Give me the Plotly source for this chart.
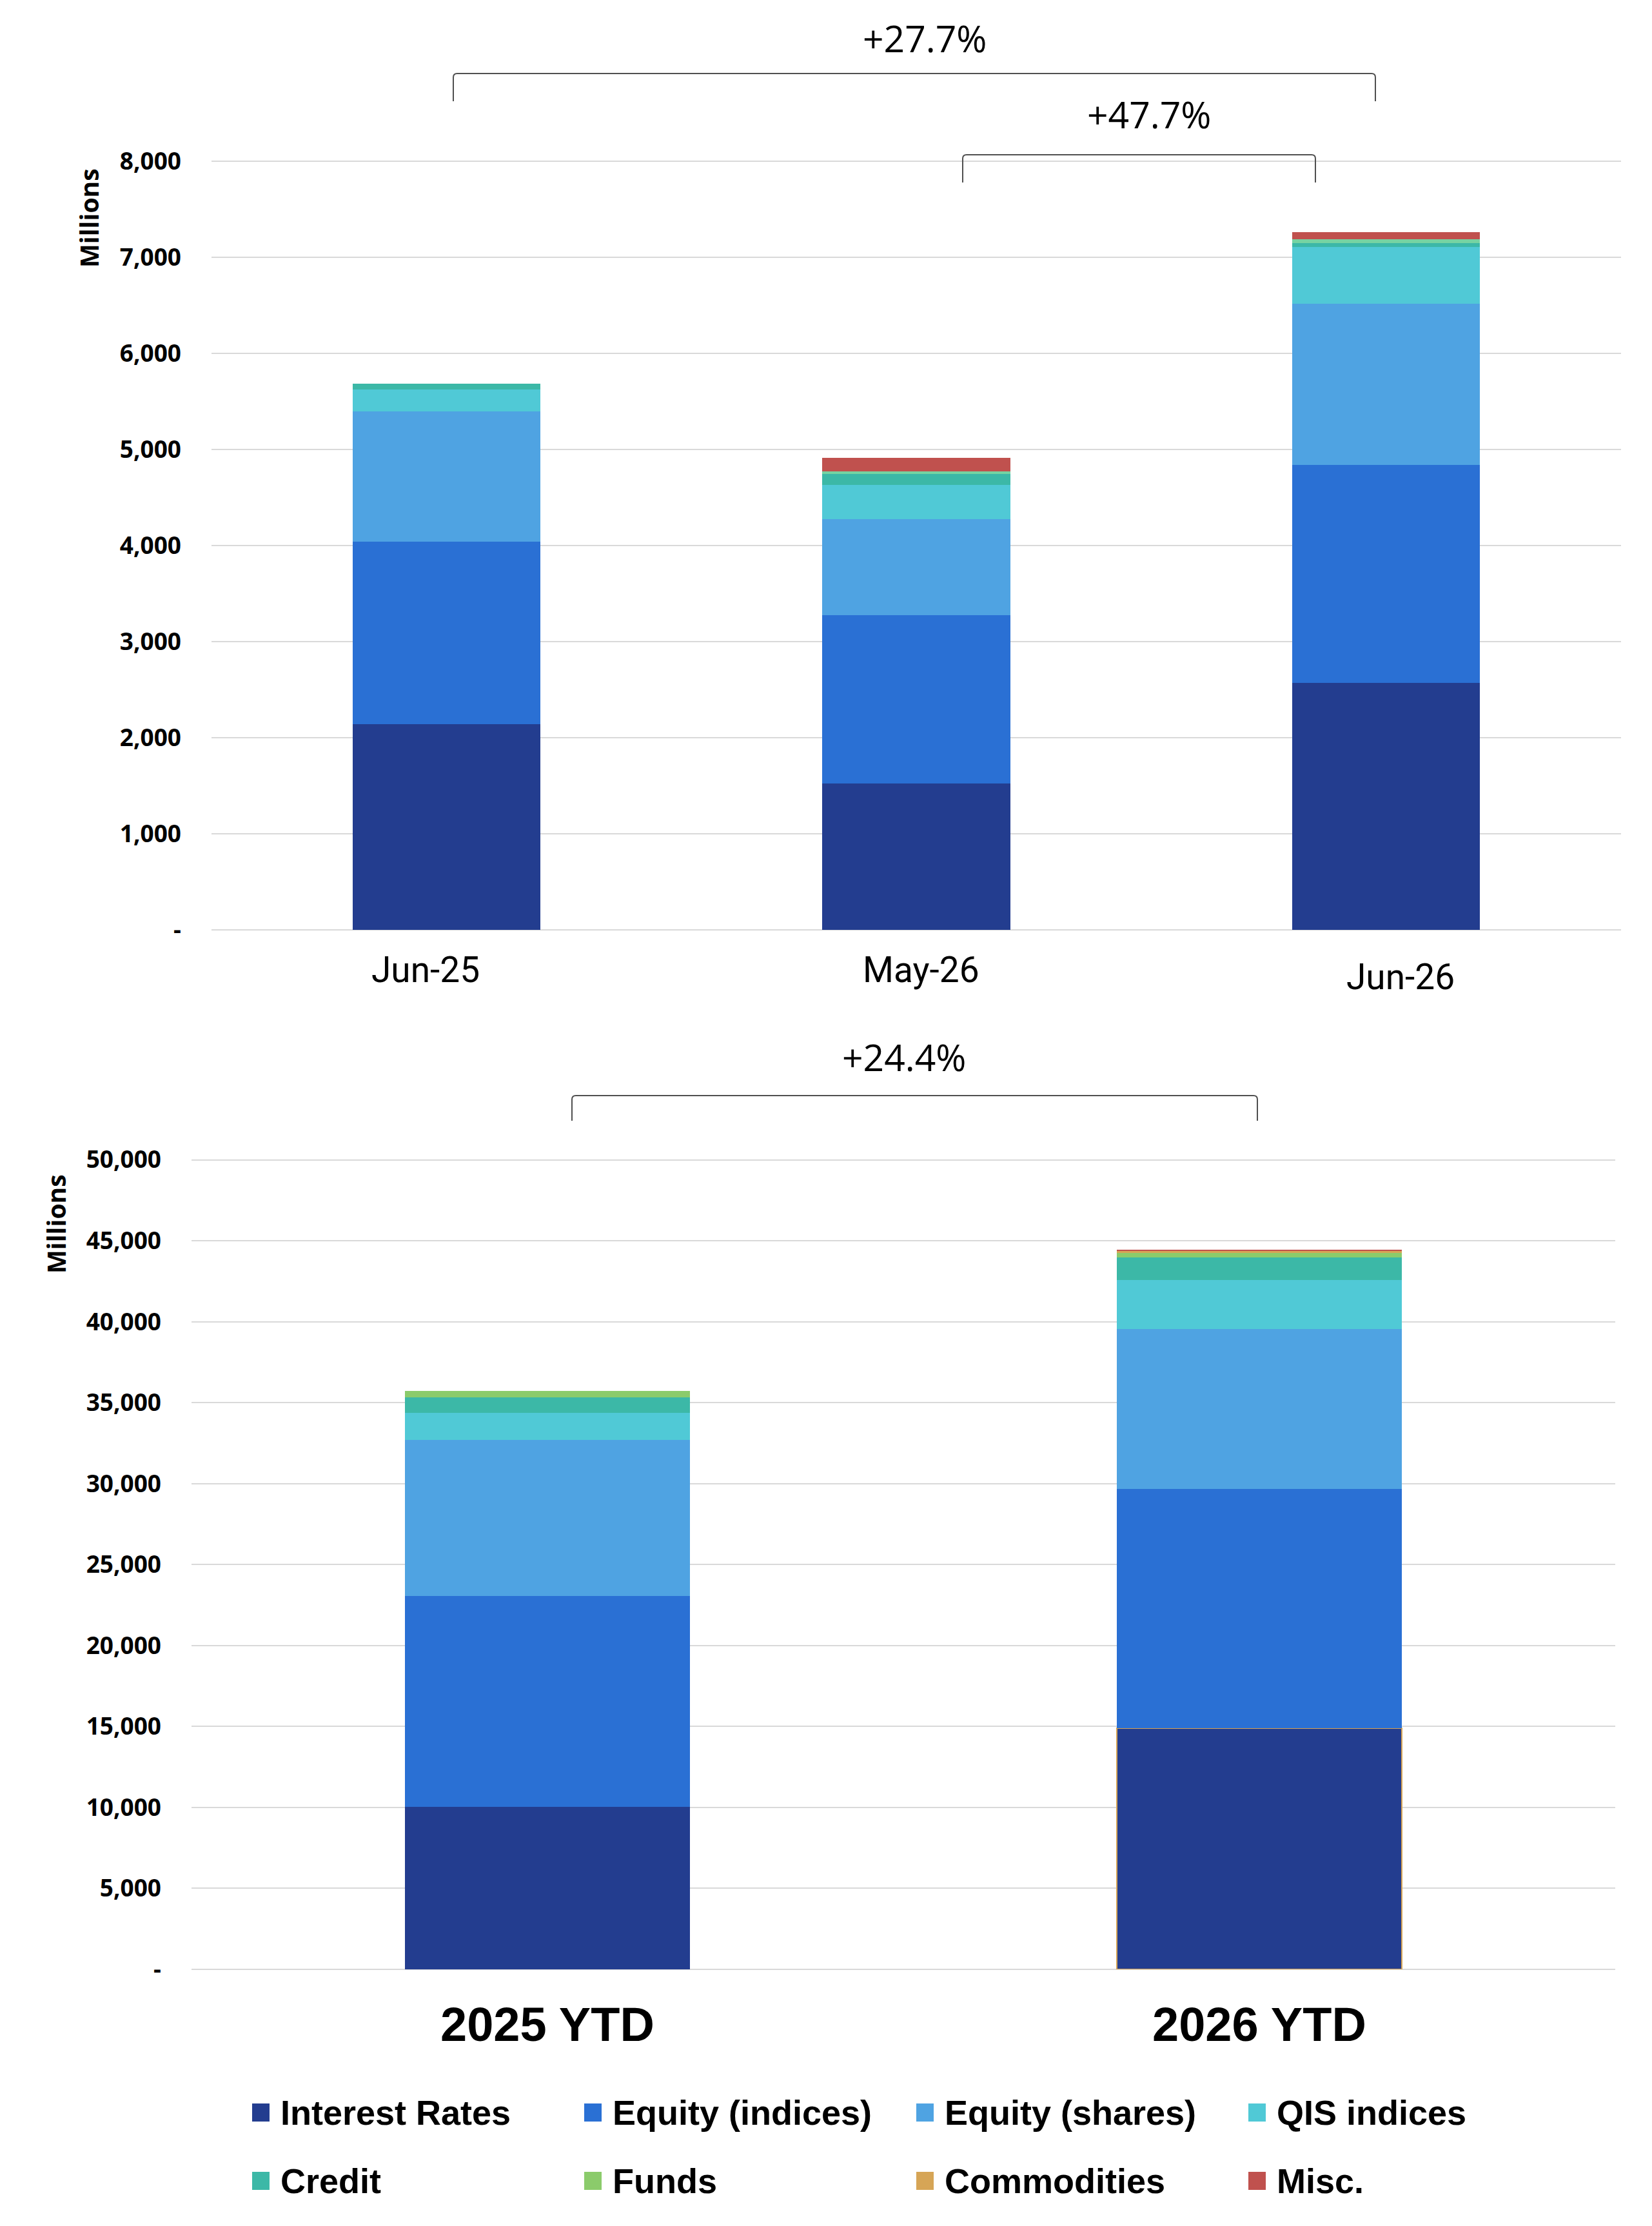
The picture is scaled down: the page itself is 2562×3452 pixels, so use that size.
import plotly.graph_objects as go

# ---- data (values in millions) ----
categories = ["Interest Rates", "Equity (indices)", "Equity (shares)", "QIS indices",
              "Credit", "Funds", "Commodities", "Misc."]
colors = ["#233D8F", "#2A70D4", "#4FA3E2", "#50C9D6",
          "#3CB8A7", "#8BCB6B", "#D6A556", "#C0514E"]
top_funds_color = "#76D3A2"

# monthly chart
months = ["Jun-25", "May-26", "Jun-26"]
m_interest_rates = [2144, 1521, 2568]
m_equity_indices = [1897, 1753, 2268]
m_equity_shares = [1356, 1000, 1681]
m_qis_indices = [226, 357, 590]
m_credit = [62, 114, 41]
m_funds = [0, 27, 40]
m_commodities = [0, 0, 0]
m_misc = [0, 144, 74]

# year-to-date chart
years = ["2025 YTD", "2026 YTD"]
y_interest_rates = [10050, 14880]
y_equity_indices = [13020, 14780]
y_equity_shares = [9610, 9887]
y_qis_indices = [1676, 3022]
y_credit = [957, 1390]
y_funds = [400, 280]
y_commodities = [0, 120]
y_misc = [0, 80]

top_ticks = [0, 1000, 2000, 3000, 4000, 5000, 6000, 7000, 8000]
bottom_ticks = [0, 5000, 10000, 15000, 20000, 25000, 30000, 35000, 40000, 45000, 50000]

W, H = 2562, 3452
PAGE_OFFSET = 8  # the page body margin shifts the figure by 8px


def px(x):
    return (x - PAGE_OFFSET) / W


def py(y):
    return 1 - (y - PAGE_OFFSET) / H


def tick_text(vals):
    return ["-" if v == 0 else f"{v:,}" for v in vals]


month_series = [m_interest_rates, m_equity_indices, m_equity_shares, m_qis_indices,
                m_credit, m_funds, m_commodities, m_misc]
year_series = [y_interest_rates, y_equity_indices, y_equity_shares, y_qis_indices,
               y_credit, y_funds, y_commodities, y_misc]

fig = go.Figure()

for i, (name, vals) in enumerate(zip(categories, month_series)):
    col = top_funds_color if name == "Funds" else colors[i]
    fig.add_trace(go.Bar(x=months, y=vals, name=name, marker_color=col,
                         marker_line_width=0, width=0.4, showlegend=False,
                         xaxis="x", yaxis="y"))

for i, (name, vals) in enumerate(zip(categories, year_series)):
    if name == "Interest Rates":
        line = dict(color=["rgba(0,0,0,0)", colors[6]], width=2)
    else:
        line = dict(width=0)
    fig.add_trace(go.Bar(x=years, y=vals, name=name, marker_color=colors[i],
                         marker_line=line, width=0.4, showlegend=False,
                         xaxis="x2", yaxis="y2"))

grid = "#D9D9D9"
tick_font = dict(family="Open Sans", size=37, color="black", weight="bold")

fig.update_layout(
    template="none",
    width=W, height=H,
    margin=dict(l=0, r=0, t=0, b=0, autoexpand=False),
    paper_bgcolor="white", plot_bgcolor="white",
    barmode="stack",
    xaxis=dict(domain=[px(328), px(2514)], anchor="y", type="category",
               range=[-0.5, 2.5], showgrid=False, zeroline=False, showline=False,
               ticks="", showticklabels=False),
    yaxis=dict(domain=[py(1442), py(247)], anchor="x", range=[0, 8020],
               tickvals=top_ticks, ticktext=tick_text(top_ticks),
               showgrid=True, gridcolor=grid, gridwidth=2,
               zeroline=True, zerolinecolor=grid, zerolinewidth=2,
               showline=False, ticks="", tickfont=tick_font, ticklabelstandoff=46,
               automargin=False),
    xaxis2=dict(domain=[px(297), px(2505)], anchor="y2", type="category",
                range=[-0.5, 1.5], showgrid=False, zeroline=False, showline=False,
                ticks="", showticklabels=False),
    yaxis2=dict(domain=[py(3054), py(1796)], anchor="x2", range=[0, 50100],
                tickvals=bottom_ticks, ticktext=tick_text(bottom_ticks),
                showgrid=True, gridcolor=grid, gridwidth=2,
                zeroline=True, zerolinecolor=grid, zerolinewidth=2,
                showline=False, ticks="", tickfont=tick_font, ticklabelstandoff=46,
                automargin=False),
)

# category labels (placed like the text boxes of the original)
month_label_dx = [-32, 7, 22]
month_label_y = [1504, 1504, 1515]
for m, dx, ly in zip(months, month_label_dx, month_label_y):
    fig.add_annotation(text=m, x=m, xref="x", y=py(ly), yref="paper", xshift=dx,
                       showarrow=False, xanchor="center", yanchor="middle",
                       font=dict(family="Roboto", size=55, color="black"))
for yr in years:
    fig.add_annotation(text=yr, x=yr, xref="x2", y=py(3139), yref="paper",
                       showarrow=False, xanchor="center", yanchor="middle",
                       font=dict(family="Liberation Sans", size=74, color="black",
                                 weight="bold"))

# axis titles
for x, y in [(137, 338), (86, 1898)]:
    fig.add_annotation(text="Millions", x=px(x), y=py(y), xref="paper", yref="paper",
                       textangle=-90, showarrow=False, xanchor="center", yanchor="middle",
                       font=dict(family="Open Sans", size=39, color="black", weight="bold"))


# growth brackets
def total(series, idx):
    return sum(s[idx] for s in series)


def bracket(x1, x2, ytop, ybot, label, lx, ly):
    r = 6
    path = (f"M {px(x1)},{py(ybot)} L {px(x1)},{py(ytop + r)} "
            f"Q {px(x1)},{py(ytop)} {px(x1 + r)},{py(ytop)} "
            f"L {px(x2 - r)},{py(ytop)} "
            f"Q {px(x2)},{py(ytop)} {px(x2)},{py(ytop + r)} "
            f"L {px(x2)},{py(ybot)}")
    fig.add_shape(type="path", path=path, xref="paper", yref="paper",
                  line=dict(color="#505050", width=2))
    fig.add_annotation(text=label, x=px(lx), y=py(ly), xref="paper", yref="paper",
                       showarrow=False, xanchor="center", yanchor="middle",
                       font=dict(family="Open Sans", size=57, color="black"))


g1 = total(month_series, 2) / total(month_series, 0) - 1
g2 = total(month_series, 2) / total(month_series, 1) - 1
g3 = total(year_series, 1) / total(year_series, 0) - 1
bracket(703, 2133, 114, 157, f"+{g1:.1%}", 1434, 59)
bracket(1493, 2040, 240, 283, f"+{g2:.1%}", 1782, 177)
bracket(887, 1950, 1699, 1738, f"+{g3:.1%}", 1402, 1639)

# legend (two rows of four)
col_x = [391, 906, 1421, 1936]
row_y = [3276, 3382]
for i, (name, col) in enumerate(zip(categories, colors)):
    x0 = col_x[i % 4]
    yc = row_y[i // 4]
    fig.add_shape(type="rect", xref="paper", yref="paper",
                  x0=px(x0), x1=px(x0 + 27), y0=py(yc + 14), y1=py(yc - 14),
                  fillcolor=col, line=dict(width=0))
    fig.add_annotation(text=name, x=px(x0 + 42), y=py(yc), xref="paper", yref="paper",
                       showarrow=False, xanchor="left", yanchor="middle",
                       font=dict(family="Liberation Sans", size=54, color="black",
                                 weight="bold"))

fig.write_html("out.html")
